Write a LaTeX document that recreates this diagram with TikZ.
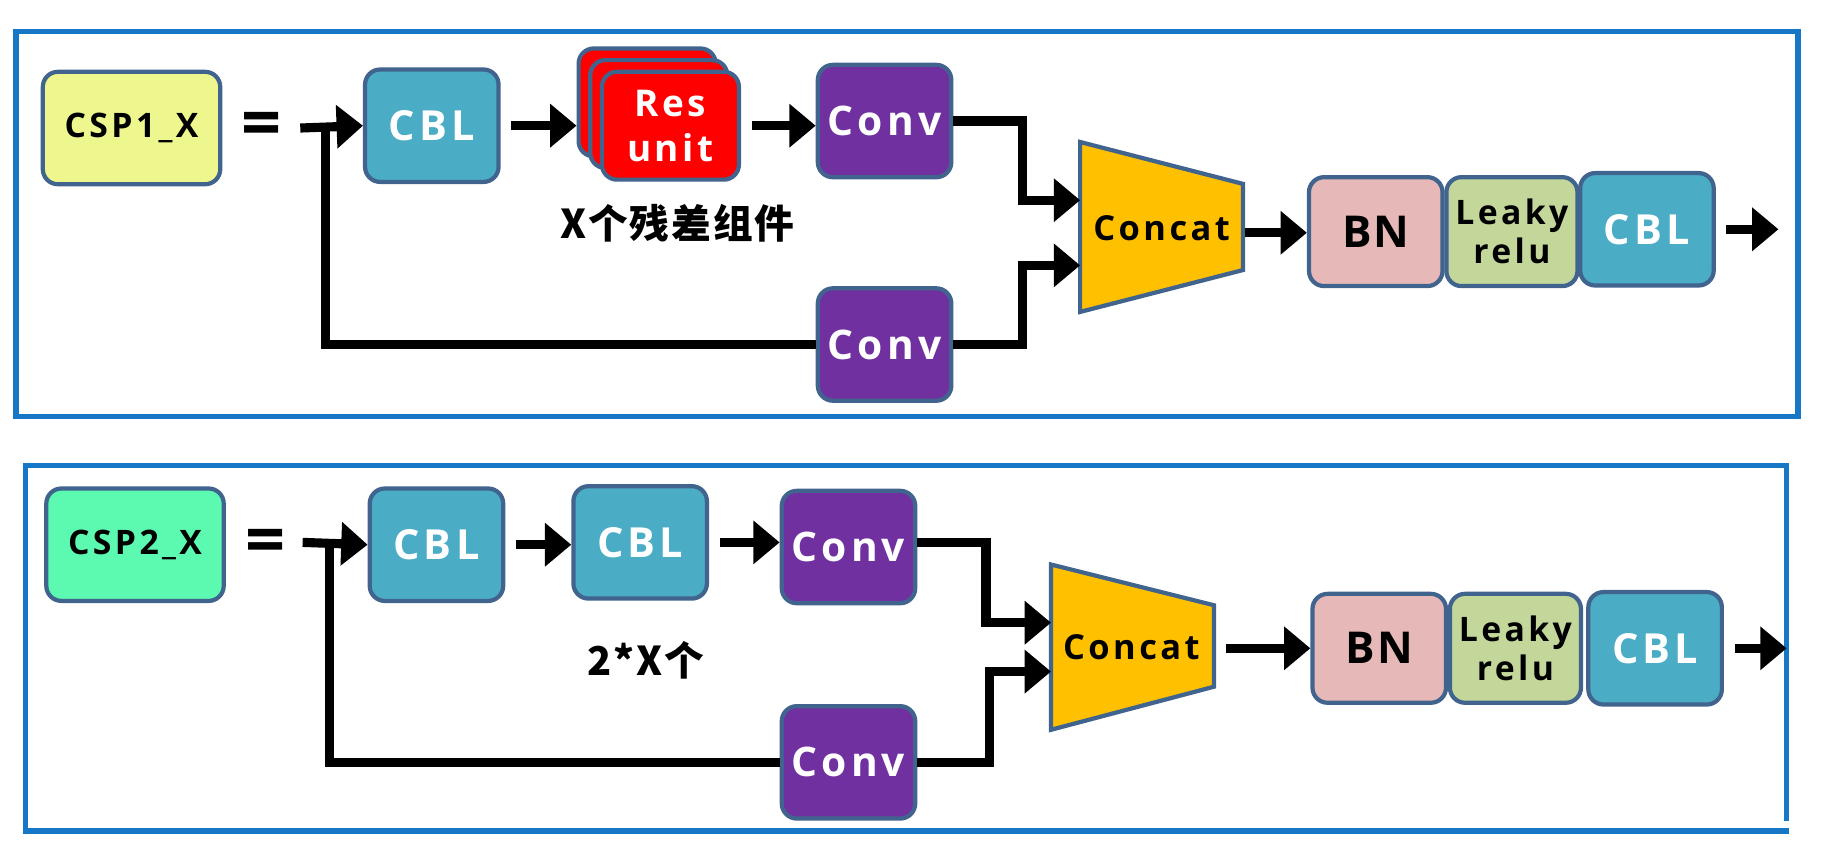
\documentclass[tikz,border=0pt]{standalone}
\usepackage{fontspec}
\setmainfont{Open Sans}
\newfontfamily\lbl[LetterSpace=10]{Open Sans}
\newfontfamily\lbln[LetterSpace=4]{Open Sans}
\newfontfamily\cjk[LetterSpace=5]{Noto Sans CJK SC}
\usetikzlibrary{arrows.meta}
\definecolor{frameblue}{HTML}{1677C7}
\definecolor{edge}{HTML}{41648F}
\definecolor{cspyellow}{HTML}{EEF68E}
\definecolor{cspgreen}{HTML}{5CFAB0}
\definecolor{cblblue}{HTML}{4BACC6}
\definecolor{convpurple}{HTML}{7030A0}
\definecolor{catorange}{HTML}{FFC000}
\definecolor{bnpink}{HTML}{E6B9B8}
\definecolor{leakygreen}{HTML}{C4D79B}

\begin{document}
\begin{tikzpicture}[x=0.01164cm,y=-0.01164cm,
blk/.style ={shape=rectangle, draw=edge, line width=1.2pt, rounded corners=4.3pt,
  minimum width=38pt, minimum height=32pt, inner sep=0pt, align=center},
csp/.style ={blk, minimum width=50.5pt, font=\lbl\bfseries\fontsize{9.6}{10}\selectfont},
cbl/.style ={blk, fill=cblblue, text=white, font=\lbl\bfseries\fontsize{11.8}{12}\selectfont},
conv/.style ={blk, fill=convpurple, text=white, font=\lbl\bfseries\fontsize{11.6}{12}\selectfont},
res/.style ={blk, fill=red, text=white, minimum width=39pt, minimum height=30.7pt,
  font=\lbl\bfseries\fontsize{10.5}{12.8}\selectfont},
bn/.style ={blk, fill=bnpink, minimum height=31pt, font=\lbln\bfseries\fontsize{12.5}{12}\selectfont},
leaky/.style ={blk, fill=leakygreen, minimum width=37.3pt, minimum height=31pt,
  font=\lbl\bfseries\fontsize{9.6}{11}\selectfont},
cat/.style ={draw=edge, line width=1.2pt, fill=catorange, line join=miter},
arr/.style ={line width=2.6pt, -{Triangle[length=7.5pt,width=12pt]}},
gap/.style ={shorten <=3pt},
ln/.style ={line width=2.6pt},
frame/.style ={draw=frameblue, line width=1.6pt},
eq/.style ={font=\bfseries\fontsize{20}{20}\selectfont},
note/.style ={font=\cjk\bfseries\fontsize{11.3}{12}\selectfont}]
\useasboundingbox (0,0) rectangle (1568,730);

% CSP1_X
\draw[frame] (14,27) rectangle (1545,358);
\node[csp, fill=cspyellow] (csp1) at (113,110) {CSP1\_X};
\node[eq] (eq1) at (225,112) {=};
\coordinate (in1) at (258,110);
\coordinate (j1) at (280,110);
\node[cbl] (cbl1) at (371,108) {CBL};
\node[res] (res1c) at (556,88) {};
\node[res] (res1b) at (566,98) {};
\node[res] (res1) at (576,108) {Res\\unit};
\node[note] (lab1) at (582,192) {X个残差组件};
\node[conv] (conv1) at (760,104) {Conv};
\node[conv] (conv2) at (760,296) {Conv};
\draw[cat] (928,122) -- (1068,158) -- (1068,232) -- (928,268) -- cycle;
\node[font=\lbl\bfseries\fontsize{9.8}{11}\selectfont] (cat1) at (998,196) {Concat};
\coordinate (cat1a) at (928,172);
\coordinate (cat1b) at (928,228);
\coordinate (cat1o) at (1070,200);
\node[bn] (bn1) at (1182,199) {BN};
\node[leaky] (lk1) at (1299,199) {Leaky\\relu};
\node[cbl] (cblo1) at (1415,197) {CBL};
\coordinate (out1) at (1528,197);

\draw[arr] (in1) -- (cbl1.west);
\draw[ln] (conv2.west) -| (j1);
\draw[arr, gap] (cbl1.east) -- (cbl1.east -| res1c.west);
\draw[arr, gap] (res1.east) -- (res1.east -| conv1.west);
\draw[arr] (conv1.east) -- ++(59,0) |- (cat1a);
\draw[arr] (conv2.east) -- ++(59,0) |- (cat1b);
\draw[arr] (cat1o) -- (cat1o -| bn1.west);
\draw[arr, gap] (cblo1.east) -- (out1);

% CSP2_X
\draw[frame] (1535,705) -- (1535,400) -- (22,400) -- (22,714) -- (1537,714);
\node[csp, fill=cspgreen] (csp2) at (116,468) {CSP2\_X};
\node[eq] (eq2) at (228,470) {=};
\coordinate (in2) at (260,466);
\coordinate (j2) at (283,466);
\node[cbl] (cbl2) at (375,468) {CBL};
\node[cbl] (cbl3) at (550,466) {CBL};
\node[note] (lab2) at (555,567) {2*X个};
\node[conv] (conv3) at (729,470) {Conv};
\node[conv] (conv4) at (729,655) {Conv};
\draw[cat] (903,485) -- (1043,520) -- (1043,590) -- (903,627) -- cycle;
\node[font=\lbl\bfseries\fontsize{9.8}{11}\selectfont] (cat2) at (972,556) {Concat};
\coordinate (cat2a) at (903,535);
\coordinate (cat2b) at (903,577);
\coordinate (cat2o) at (1053,557);
\node[bn] (bn2) at (1185,557) {BN};
\node[leaky] (lk2) at (1302,557) {Leaky\\relu};
\node[cbl] (cblo2) at (1422,557) {CBL};
\coordinate (out2) at (1535,557);

\draw[arr] (in2) -- (cbl2.west);
\draw[ln] (conv4.west) -| (j2);
\draw[arr, gap] (cbl2.east) -- (cbl2.east -| cbl3.west);
\draw[arr, gap] (cbl3.east) -- (cbl3.east -| conv3.west);
\draw[arr] (conv3.east) ++(0,-4) -- ++(59,0) |- (cat2a);
\draw[arr] (conv4.east) -- ++(62,0) |- (cat2b);
\draw[arr] (cat2o) -- (cat2o -| bn2.west);
\draw[arr, gap] (cblo2.east) -- (out2);
\end{tikzpicture}
\end{document}
